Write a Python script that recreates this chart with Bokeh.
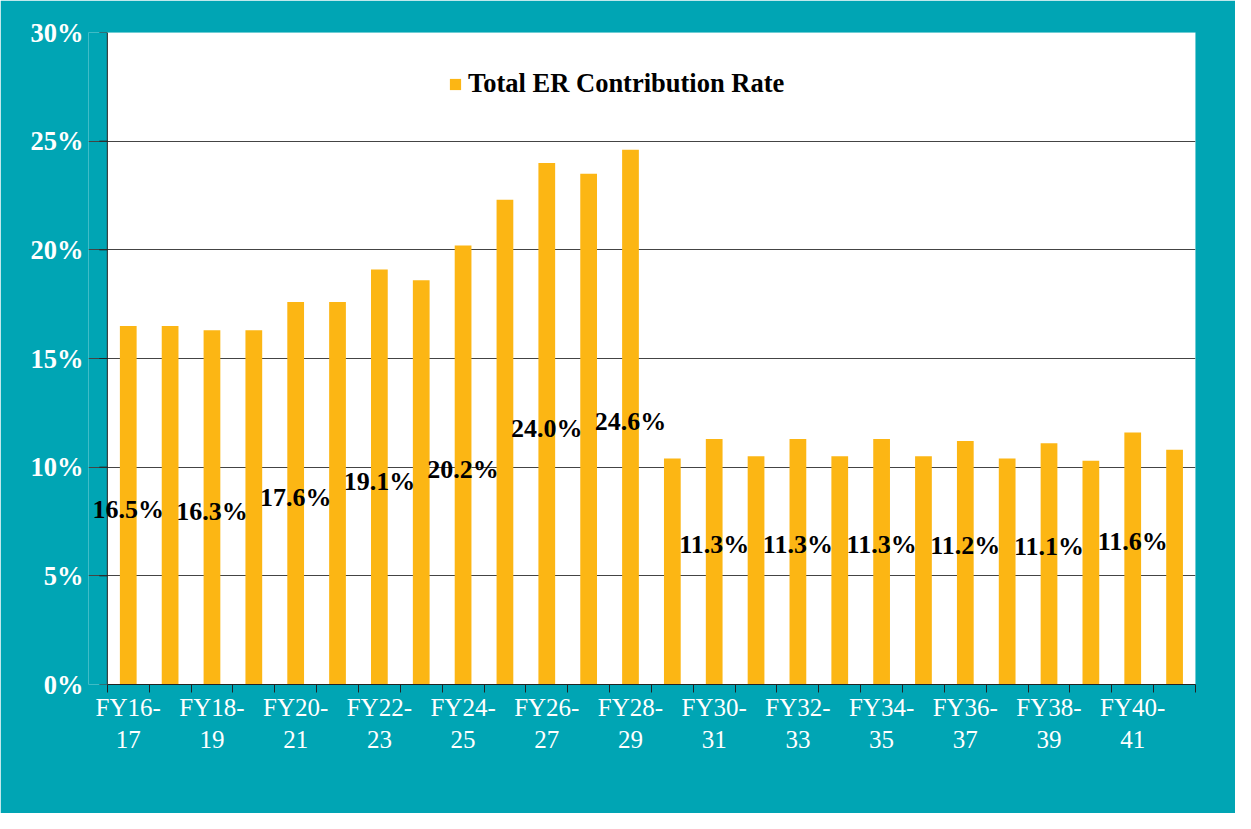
import math
from bokeh.plotting import figure
from bokeh.models import (ColumnDataSource, FixedTicker, Legend, LegendItem,
                          PrintfTickFormatter, Range1d, LabelSet, BoxAnnotation, Span)
from bokeh.embed import file_html
from bokeh.resources import INLINE

categories = ["FY16-17", "FY17-18", "FY18-19", "FY19-20", "FY20-21", "FY21-22",
              "FY22-23", "FY23-24", "FY24-25", "FY25-26", "FY26-27", "FY27-28",
              "FY28-29", "FY29-30", "FY30-31", "FY31-32", "FY32-33", "FY33-34",
              "FY34-35", "FY35-36", "FY36-37", "FY37-38", "FY38-39", "FY39-40",
              "FY40-41", "FY41-42"]
rates = [16.5, 16.5, 16.3, 16.3, 17.6, 17.6, 19.1, 18.6, 20.2, 22.3, 24.0, 23.5,
         24.6, 10.4, 11.3, 10.5, 11.3, 10.5, 11.3, 10.5, 11.2, 10.4, 11.1, 10.3,
         11.6, 10.8]
y_ticks = [0, 5, 10, 15, 20, 25, 30]

BAR = "#FCB614"
TEAL = "#00A5B4"
AXIS = "#222222"
SERIF = "Liberation Serif"

n = len(categories)
xs = [i + 0.5 for i in range(n)]
src = ColumnDataSource(dict(x=xs, top=rates, cat=categories))

lab_idx = list(range(0, n, 2))
lab_src = ColumnDataSource(dict(
    x=[xs[i] for i in lab_idx],
    y=[rates[i] / 2 - 0.2 if rates[i] > 15 else rates[i] / 2 + 0.8 for i in lab_idx],
    text=[f"{rates[i]:.1f}%" for i in lab_idx],
))

# frame extends slightly left of the y axis so the first data label is not clipped
p = figure(width=1235, height=813, output_backend="svg", toolbar_location=None,
           x_range=Range1d(-0.45, n), y_range=Range1d(0, 30),
           min_border_left=88, min_border_right=40, min_border_top=32,
           min_border_bottom=129)
p.background_fill_color = TEAL
p.border_fill_color = TEAL
p.outline_line_color = None

# white plot area from the y axis rightwards
p.add_layout(BoxAnnotation(left=0, fill_color="white", fill_alpha=1.0,
                           line_color=None, line_alpha=0, level="image"))

r = p.vbar(x="x", top="top", width=0.4, source=src, fill_color=BAR,
           line_color=None)

# y axis line and outward ticks at x = 0
p.add_layout(Span(location=0, dimension="height", line_color=AXIS, line_width=1))
p.ray(x=[0] * len(y_ticks), y=y_ticks, length=8, length_units="screen",
      angle=math.pi, line_color=AXIS, line_width=1)

labels = LabelSet(x="x", y="y", text="text", source=lab_src, text_align="center",
                  text_baseline="middle", text_font=SERIF, text_font_style="bold",
                  text_font_size="26px", text_color="black", level="overlay")
p.add_layout(labels)

# y axis (labels only)
p.yaxis.ticker = FixedTicker(ticks=y_ticks)
p.yaxis.formatter = PrintfTickFormatter(format="%d%%")
p.yaxis.major_label_text_font = SERIF
p.yaxis.major_label_text_font_style = "bold"
p.yaxis.major_label_text_font_size = "26.5px"
p.yaxis.major_label_text_color = "white"
p.yaxis.axis_line_color = None
p.yaxis.major_tick_line_color = None
p.yaxis.major_tick_out = 0
p.yaxis.major_tick_in = 0
p.yaxis.minor_tick_line_color = None
p.yaxis.major_label_standoff = 5

# x axis
label_pos = [xs[i] for i in range(0, n, 2)]
p.xaxis.bounds = (0, n)
p.xaxis.ticker = FixedTicker(ticks=label_pos, minor_ticks=list(range(n + 1)))
p.xaxis.major_label_overrides = {xs[i]: categories[i].replace("-", "-\n")
                                 for i in range(0, n, 2)}
p.xaxis.major_label_text_font = SERIF
p.xaxis.major_label_text_font_size = "25px"
p.xaxis.major_label_text_color = "white"
p.xaxis.major_label_text_line_height = 1.22
p.xaxis.axis_line_color = AXIS
p.xaxis.major_tick_line_color = None
p.xaxis.minor_tick_line_color = AXIS
p.xaxis.minor_tick_out = 8
p.xaxis.minor_tick_in = 0
p.xaxis.major_label_standoff = 1

p.xgrid.grid_line_color = None
p.ygrid.ticker = FixedTicker(ticks=y_ticks)
p.ygrid.bounds = (0, n)
p.ygrid.grid_line_color = "#444444"
p.ygrid.grid_line_width = 1

legend = Legend(items=[LegendItem(label="Total ER Contribution Rate", renderers=[r])],
                location=(360, 585))
legend.background_fill_alpha = 0
legend.border_line_color = None
legend.padding = 0
legend.margin = 0
legend.glyph_width = 14
legend.glyph_height = 14
legend.label_standoff = 6
legend.label_text_font = SERIF
legend.label_text_font_style = "bold"
legend.label_text_font_size = "26.5px"
legend.label_text_color = "black"
p.add_layout(legend)

open("out.html", "w").write(file_html(p, INLINE))
